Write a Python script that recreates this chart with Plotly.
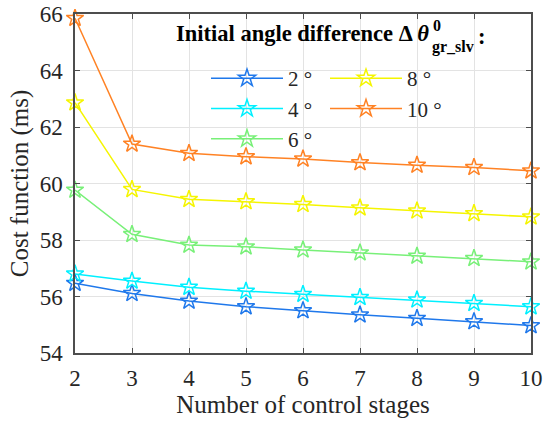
import plotly.graph_objects as go

stages = [2, 3, 4, 5, 6, 7, 8, 9, 10]
cost_2deg = [56.47, 56.11, 55.84, 55.64, 55.50, 55.35, 55.23, 55.11, 54.97]
cost_4deg = [56.80, 56.55, 56.33, 56.19, 56.08, 55.97, 55.88, 55.76, 55.64]
cost_6deg = [59.77, 58.20, 57.82, 57.76, 57.65, 57.55, 57.43, 57.35, 57.23]
cost_8deg = [62.86, 59.79, 59.44, 59.36, 59.26, 59.14, 59.03, 58.94, 58.82]
cost_10deg = [65.85, 61.40, 61.07, 60.95, 60.87, 60.74, 60.65, 60.57, 60.45]
series_names = ["2 °", "4 °", "6 °", "8 °", "10 °"]
series_colors = ["#1f78eb", "#00f0ff", "#78f078", "#f5f500", "#ff8224"]
series_legend = ["legend", "legend", "legend", "legend2", "legend2"]
yticks = [54, 56, 58, 60, 62, 64, 66]
xticks = stages

W, H = 544, 428
L, R, T, B = 75, 13, 14, 75
pw, ph = W - L - R, H - T - B


def px(x):
    return (x - L) / pw


def py(y):
    return 1 - (y - T) / ph


FONT = "Liberation Serif, Times New Roman, serif"
fig = go.Figure()
for name, vals, col, lg in zip(series_names,
                               [cost_2deg, cost_4deg, cost_6deg, cost_8deg, cost_10deg],
                               series_colors, series_legend):
    fig.add_trace(go.Scatter(
        x=stages, y=vals, name=name, mode="lines+markers", legend=lg,
        cliponaxis=False,
        line=dict(color=col, width=1.5),
        marker=dict(symbol="star-open", size=13, color=col, line=dict(color=col, width=1.5)),
    ))

axis_common = dict(
    showline=True, linecolor="#4d4d4d", linewidth=1.5, mirror="ticks",
    ticks="inside", ticklen=5, tickcolor="#4d4d4d", tickwidth=1,
    showgrid=True, gridcolor="#e3e3e3", gridwidth=1, zeroline=False,
    tickfont=dict(family=FONT, size=23, color="#262626"),
    ticklabeloverflow="allow",
)
fig.update_xaxes(range=[2, 10], tickvals=xticks, **axis_common, ticklabelstandoff=4,
                 title=dict(text="Number of control stages",
                            font=dict(family=FONT, size=25, color="#262626"), standoff=2))
fig.update_yaxes(range=[54, 66], tickvals=yticks, **axis_common, ticklabelstandoff=6,
                 title=dict(text="Cost function (ms)",
                            font=dict(family=FONT, size=25, color="#262626"), standoff=4))

legfont = dict(family=FONT, size=21, color="#262626")
fig.update_layout(
    width=W, height=H,
    margin=dict(l=L, r=R, t=T, b=B, autoexpand=False),
    paper_bgcolor="white", plot_bgcolor="white",
    legend=dict(x=px(206), y=py(58), xanchor="left", yanchor="top",
                bgcolor="rgba(0,0,0,0)", font=legfont, itemwidth=72,
                tracegroupgap=0),
    legend2=dict(x=px(325), y=py(58), xanchor="left", yanchor="top",
                 bgcolor="rgba(0,0,0,0)", font=legfont, itemwidth=72,
                 tracegroupgap=0),
)

tfont = dict(family=FONT, size=22.5, color="black")
fig.add_annotation(x=px(431), y=py(34), xref="paper", yref="paper",
                   xanchor="right", yanchor="middle", showarrow=False,
                   text="<b>Initial angle difference Δ <i>θ</i></b>", font=tfont)
fig.add_annotation(x=px(431), y=py(25), xref="paper", yref="paper",
                   xanchor="left", yanchor="middle", showarrow=False,
                   text="<b>0</b>", font=dict(family=FONT, size=16, color="black"))
fig.add_annotation(x=px(430), y=py(47), xref="paper", yref="paper",
                   xanchor="left", yanchor="middle", showarrow=False,
                   text="<b>gr_slv</b>", font=dict(family=FONT, size=16, color="black"))
fig.add_annotation(x=px(476), y=py(36), xref="paper", yref="paper",
                   xanchor="left", yanchor="middle", showarrow=False,
                   text="<b>:</b>", font=tfont)

fig.write_html("out.html", config={"displayModeBar": False},
               post_script="document.body.style.margin='0';document.body.style.padding='0';")
